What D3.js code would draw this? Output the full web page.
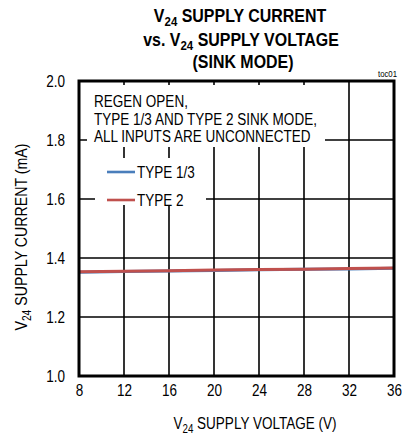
<!DOCTYPE html>
<html>
<head>
<meta charset="utf-8">
<script src="https://cdn.jsdelivr.net/npm/d3@7/dist/d3.min.js"></script>
<style>
  html, body { margin: 0; padding: 0; background: #fff; }
  svg text { font-family: "Liberation Sans", Arial, sans-serif; fill: #000; }
</style>
</head>
<body>
<svg id="chart" width="403" height="437"></svg>
<script>
// Supply voltage (V) where current was measured
const voltage = [8, 12, 16, 20, 24, 28, 32, 36];
// V24 supply current (mA) per channel type
const type13Current = [1.352, 1.354, 1.356, 1.358, 1.360, 1.362, 1.363, 1.365];
const type2Current  = [1.353, 1.355, 1.357, 1.359, 1.361, 1.362, 1.364, 1.366];
const seriesNames = ["TYPE 1/3", "TYPE 2"];
const seriesColors = ["#4a7ebb", "#c0504d"];
const xTicks = [8, 12, 16, 20, 24, 28, 32, 36];
const yTicks = [1.0, 1.2, 1.4, 1.6, 1.8, 2.0];
const noteLines = ["REGEN OPEN,", "TYPE 1/3 AND TYPE 2 SINK MODE,", "ALL INPUTS ARE UNCONNECTED"];

const NARROW = 0.82;     // horizontal squeeze giving a condensed face
const svg = d3.select("#chart");
const plot = { left: 79, right: 394, top: 81, bottom: 376 };

const x = d3.scaleLinear().domain([8, 36]).range([plot.left, plot.right]);
const y = d3.scaleLinear().domain([1.0, 2.0]).range([plot.bottom, plot.top]);

// Text placed at (px, py), squeezed horizontally; parts may carry subscripts
function label(parent, px, py, parts, opts = {}) {
  const g = parent.append("g").attr("transform", `translate(${px},${py})${opts.rotate ? " rotate(" + opts.rotate + ")" : ""}`);
  const t = g.append("text")
    .attr("transform", `scale(${opts.sx || NARROW},1)`)
    .attr("font-size", opts.size || 16.5)
    .attr("text-anchor", opts.anchor || "start");
  if (opts.bold) t.attr("font-weight", "bold");
  if (typeof parts === "string") parts = [{ t: parts }];
  parts.forEach(p => {
    if (p.sub) {
      t.append("tspan").attr("font-size", "72%").attr("dy", 4).text(p.t);
    } else {
      const s = t.append("tspan").text(p.t);
      if (p.after) s.attr("dy", -4);
    }
  });
  return t;
}
const sub = (pre, post) => [{ t: pre + "V" }, { t: "24", sub: true }, { t: post, after: true }];

// Title
label(svg, 240, 22, sub("", " SUPPLY CURRENT"), { bold: true, size: 19, sx: 0.84, anchor: "middle" });
label(svg, 241, 45.5, sub("vs. ", " SUPPLY VOLTAGE"), { bold: true, size: 19, sx: 0.84, anchor: "middle" });
label(svg, 243, 68, "(SINK MODE)", { bold: true, size: 19, sx: 0.84, anchor: "middle" });
label(svg, 397, 77, "toc01", { size: 9.5, anchor: "end" });

// Grid
const grid = svg.append("g").attr("stroke", "#000").attr("stroke-width", 1.6);
grid.selectAll("line.v").data(xTicks.slice(1, -1)).join("line")
  .attr("x1", d => x(d)).attr("x2", d => x(d))
  .attr("y1", plot.top).attr("y2", plot.bottom);
grid.selectAll("line.h").data(yTicks.slice(1, -1)).join("line")
  .attr("y1", d => y(d)).attr("y2", d => y(d))
  .attr("x1", plot.left).attr("x2", plot.right);

// Axes: tick labels only, the frame is drawn separately
const xAxis = svg.append("g").attr("transform", `translate(0,${plot.bottom})`)
  .call(d3.axisBottom(x).tickValues(xTicks).tickSize(0).tickPadding(4).tickFormat(d3.format("d")));
const yAxis = svg.append("g").attr("transform", `translate(${plot.left},0)`)
  .call(d3.axisLeft(y).tickValues(yTicks).tickSize(0).tickPadding(17).tickFormat(d3.format(".1f")));
[xAxis, yAxis].forEach(a => {
  a.select(".domain").remove();
  a.selectAll("text").attr("font-size", 16.5).attr("font-family", null)
    .attr("transform", `scale(${NARROW},1)`);
});
xAxis.selectAll("text").attr("dy", "0.95em");

// Annotation block masks the grid behind it
svg.append("rect").attr("x", 87).attr("y", 85).attr("width", 238).attr("height", 62).attr("fill", "#fff");
noteLines.forEach((t, i) => label(svg, 94, 107 + i * 17.5, t));

// Legend
svg.append("rect").attr("x", 95).attr("y", 158).attr("width", 111).attr("height", 47).attr("fill", "#fff");
seriesNames.forEach((n, i) => {
  const ly = 172 + i * 28;
  svg.append("line").attr("x1", 107).attr("x2", 135).attr("y1", ly).attr("y2", ly)
    .attr("stroke", seriesColors[i]).attr("stroke-width", 2.6);
  label(svg, 137, ly + 6, n);
});

// Data lines
const line = d3.line().x((d, i) => x(voltage[i])).y(d => y(d));
[type13Current, type2Current].forEach((s, i) => {
  svg.append("path").datum(s).attr("d", line)
    .attr("fill", "none").attr("stroke", seriesColors[i]).attr("stroke-width", 3);
});

// Frame
svg.append("rect").attr("x", plot.left).attr("y", plot.top)
  .attr("width", plot.right - plot.left).attr("height", plot.bottom - plot.top)
  .attr("fill", "none").attr("stroke", "#000").attr("stroke-width", 3);

// Axis titles
label(svg, 255, 429, sub("", " SUPPLY VOLTAGE (V)"), { anchor: "middle" });
label(svg, 27, 237, sub("", " SUPPLY CURRENT (mA)"), { anchor: "middle", rotate: -90, sx: 0.86 });
</script>
</body>
</html>
